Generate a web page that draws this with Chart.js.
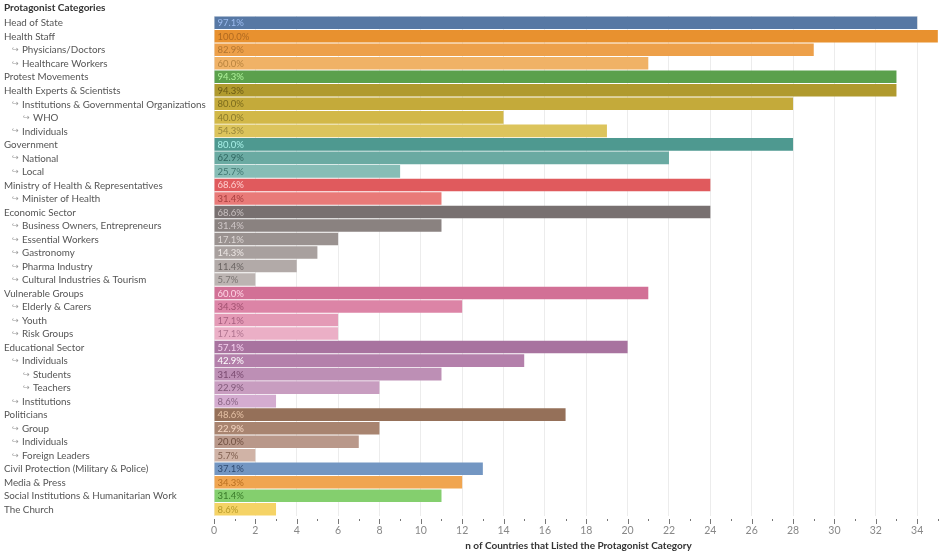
<!DOCTYPE html>
<html><head><meta charset="utf-8">
<script src="https://cdn.jsdelivr.net/npm/chart.js@4"></script>
<style>html,body{margin:0;padding:0;background:#fff}#wrap{width:943px;height:556px;position:relative}</style>
</head><body><div id="wrap"><canvas id="c"></canvas></div>
<script>
const categories = ["Head of State","Health Staff","Physicians/Doctors","Healthcare Workers","Protest Movements","Health Experts & Scientists","Institutions & Governmental Organizations","WHO","Individuals","Government","National","Local","Ministry of Health & Representatives","Minister of Health","Economic Sector","Business Owners, Entrepreneurs","Essential Workers","Gastronomy","Pharma Industry","Cultural Industries & Tourism","Vulnerable Groups","Elderly & Carers","Youth","Risk Groups","Educational Sector","Individuals","Students","Teachers","Institutions","Politicians","Group","Individuals","Foreign Leaders","Civil Protection (Military & Police)","Media & Press","Social Institutions & Humanitarian Work","The Church"];
const levels = [0,0,1,1,0,0,1,2,1,0,1,1,0,1,0,1,1,1,1,1,0,1,1,1,0,1,2,2,1,0,1,1,1,0,0,0,0];
const counts = [34,35,29,21,33,33,28,14,19,28,22,9,24,11,24,11,6,5,4,2,21,12,6,6,20,15,11,8,3,17,8,7,2,13,12,11,3];
const pctLabels = ["97.1%","100.0%","82.9%","60.0%","94.3%","94.3%","80.0%","40.0%","54.3%","80.0%","62.9%","25.7%","68.6%","31.4%","68.6%","31.4%","17.1%","14.3%","11.4%","5.7%","60.0%","34.3%","17.1%","17.1%","57.1%","42.9%","31.4%","22.9%","8.6%","48.6%","22.9%","20.0%","5.7%","37.1%","34.3%","31.4%","8.6%"];
const barColors = ["#5778a4","#e8912f","#eda04a","#f0b266","#5ba04c","#b09a2e","#c4aa3a","#d2b848","#dcc45c","#4e9990","#6aaaa2","#87bdb6","#e05a5d","#e97a78","#787070","#8a8280","#9a9290","#a8a09e","#b2aaa8","#bcb4b2","#d27096","#dc84a6","#e49ab6","#ebafc6","#a8739f","#b480ab","#bd8fb5","#c89dc0","#d4acd0","#957059","#a88470","#b9988a","#d0b3a6","#7396c2","#f0a550","#84cf6e","#f5d366"];
const textColors = ["#9dbcf0","#b06a20","#b27530","#b8843f","#aef09a","#6b5b15","#7a6a1c","#8a7a2a","#98863a","#a8f0e8","#2f6660","#3f7670","#ffd0d0","#a83f3f","#c8c0c0","#d0c8c8","#dcd6d4","#ece6e4","#6a6462","#7a7472","#ffd6e6","#a0506f","#a86080","#b07590","#f4d0ee","#ffffff","#7a4a70","#805878","#8a6585","#e6c2a6","#f4d6c2","#704f40","#806050","#2f4a70","#b86f20","#3a7a2a","#b89a2a"];
const xTicks = [0,2,4,6,8,10,12,14,16,18,20,22,24,26,28,30,32,34];
const headerText = "Protagonist Categories";
const xTitle = "n of Countries that Listed the Protagonist Category";

const labelPlugin = {
  id: 'labels',
  afterDraw(chart) {
    const ctx = chart.ctx;
    const ys = chart.scales.y;
    ctx.save();
    ctx.textBaseline = 'middle';
    ctx.textAlign = 'left';
    ctx.fillStyle = '#333';
    ctx.font = 'bold 10px Lato';
    ctx.fillText(headerText, 4, 8);
    categories.forEach((name, i) => {
      const y = ys.getPixelForValue(i) + 0.5;
      const lv = levels[i];
      let tx = 4;
      if (lv > 0) {
        tx = lv === 1 ? 22 : 33;
        ctx.fillStyle = '#999';
        ctx.font = '8px "DejaVu Sans"';
        ctx.fillText('\u21AA', tx - 10, y);
      }
      ctx.fillStyle = '#555';
      ctx.font = '9.8px Lato';
      ctx.fillText(name, tx, y);
    });
    const meta = chart.getDatasetMeta(0);
    ctx.font = '9.5px Lato';
    meta.data.forEach((bar, i) => {
      ctx.fillStyle = textColors[i];
      ctx.fillText(pctLabels[i], Math.min(bar.base, bar.x) + 3, bar.y + 0.5);
    });
    const xs = chart.scales.x;
    const b = chart.chartArea.bottom;
    ctx.strokeStyle = '#777';
    ctx.lineWidth = 1;
    for (let v = 0; v <= 35; v++) {
      const px = Math.round(xs.getPixelForValue(v)) + 0.5;
      ctx.beginPath();
      ctx.moveTo(px, b + 3);
      ctx.lineTo(px, b + (v % 2 === 0 ? 8 : 5));
      ctx.stroke();
    }
    ctx.restore();
  }
};

new Chart(document.getElementById('c'), {
  type: 'bar',
  data: {
    labels: categories,
    datasets: [{
      data: counts,
      backgroundColor: barColors,
      barPercentage: 0.93,
      categoryPercentage: 1.0,
      borderWidth: 0
    }]
  },
  options: {
    indexAxis: 'y',
    responsive: true,
    maintainAspectRatio: false,
    animation: false,
    layout: { padding: { top: 16, left: 4, right: 0, bottom: 0 } },
    plugins: { legend: { display: false }, tooltip: { enabled: false } },
    scales: {
      y: {
        ticks: { display: false },
        grid: { display: false },
        border: { display: false },
        afterFit: s => { s.width = 210; }
      },
      x: {
        min: 0,
        max: 35.25,
        afterBuildTicks: s => { s.ticks = xTicks.map(v => ({ value: v })); },
        afterFit: s => { s.height = 40; },
        grid: { color: '#ececec', drawTicks: false },
        border: { display: false },
        ticks: { padding: 8, color: '#888', font: { family: 'Lato', size: 10.5 } },
        title: { display: true, text: xTitle, color: '#333', font: { family: 'Lato', size: 10, weight: 'bold' }, padding: { top: 0, bottom: 4 } }
      }
    }
  },
  plugins: [labelPlugin]
});
</script>
</body></html>
